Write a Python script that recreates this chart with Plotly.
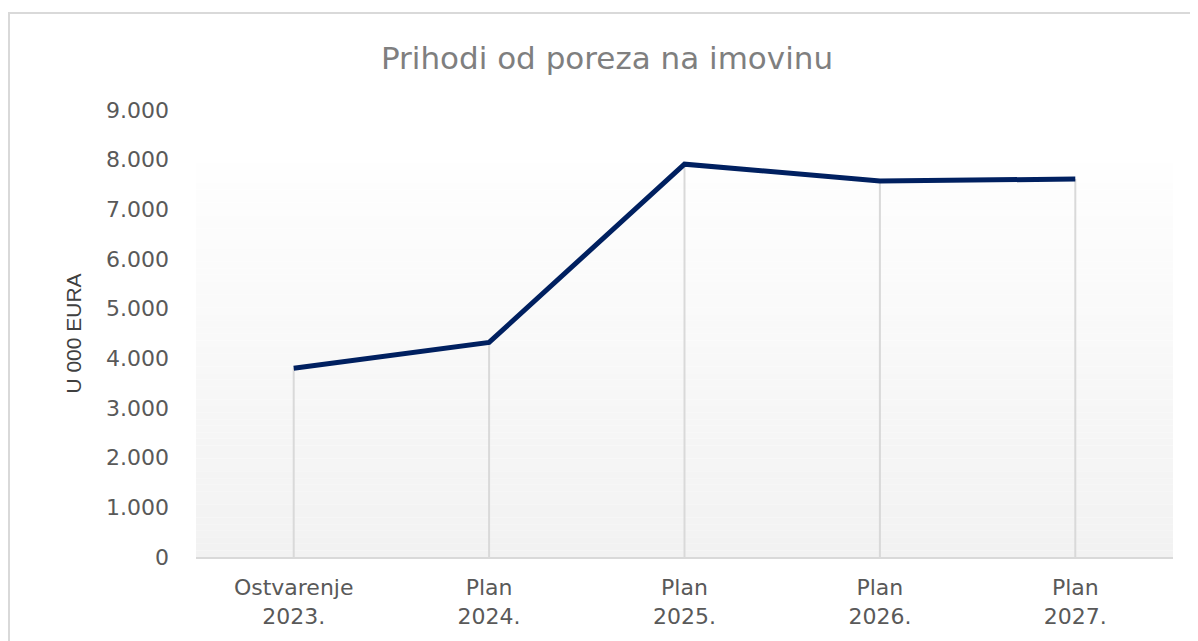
import plotly.graph_objects as go

# ---- data ----
categories = ["Ostvarenje<br>2023.", "Plan<br>2024.", "Plan<br>2025.", "Plan<br>2026.", "Plan<br>2027."]
values = [3800, 4320, 7910, 7570, 7610]
y_tickvals = [0, 1000, 2000, 3000, 4000, 5000, 6000, 7000, 8000, 9000]
y_ticktext = ["0", "1.000", "2.000", "3.000", "4.000", "5.000", "6.000", "7.000", "8.000", "9.000"]
title_text = "Prihodi od poreza na imovinu"
y_title = "U 000 EURA"

# page has an 8px body margin, so the figure is sized to fill the rest of the window
W, H = 1190, 633
ML, MR, MT, MB = 188, 25, 102, 84
plot_w = W - ML - MR
plot_h = H - MT - MB

fig = go.Figure()

# drop lines (from each point down to the axis)
fig.add_trace(go.Scatter(
    x=categories, y=values, mode="markers",
    marker=dict(size=1, color="rgba(0,0,0,0)"),
    error_y=dict(type="data", symmetric=False, array=[0] * len(values),
                 arrayminus=values, color="#d9d9d9", thickness=2, width=0),
    hoverinfo="skip", showlegend=False,
))

# main line
fig.add_trace(go.Scatter(
    x=categories, y=values, mode="lines",
    line=dict(color="#002060", width=5),
    showlegend=False,
))

# gradient plot-area background (bands)
shapes = []
N = 60
top_dom = 0.881
c_bot = (242, 242, 242)
c_top = (254, 254, 254)
for i in range(N):
    t = i / (N - 1)
    c = tuple(int(round(c_bot[k] + (c_top[k] - c_bot[k]) * t)) for k in range(3))
    shapes.append(dict(
        type="rect", xref="x domain", yref="y domain",
        x0=0, x1=1, y0=top_dom * i / N, y1=top_dom * (i + 1) / N,
        fillcolor="rgb(%d,%d,%d)" % c, line=dict(width=0), layer="below",
    ))

# chart border
shapes.append(dict(
    type="rect", xref="paper", yref="paper",
    x0=(1 - ML) / plot_w, x1=(W + 10 - ML) / plot_w,
    y0=(H - MB - (H + 10)) / plot_h, y1=(H - MB - 5) / plot_h,
    line=dict(color="#d9d9d9", width=2), fillcolor="rgba(0,0,0,0)", layer="above",
))

fig.update_layout(
    width=W, height=H,
    margin=dict(l=ML, r=MR, t=MT, b=MB),
    paper_bgcolor="white", plot_bgcolor="white",
    shapes=shapes,
    title=dict(text=title_text, x=599 / W, xanchor="center", y=1 - 50 / H, yanchor="middle",
               font=dict(family="DejaVu Sans", size=31, color="#7f7f7f")),
    font=dict(family="DejaVu Sans", color="#595959"),
    hovermode=False,
)

fig.update_xaxes(
    type="category", range=[-0.5, len(categories) - 0.5],
    showgrid=False, zeroline=False,
    showline=True, linecolor="#d9d9d9", linewidth=2,
    ticks="", ticklabelstandoff=10,
    tickfont=dict(family="DejaVu Sans", size=22, color="#595959"),
)
fig.update_yaxes(
    range=[0, 9000], tickvals=y_tickvals, ticktext=y_ticktext,
    showgrid=False, zeroline=False, showline=False,
    ticks="", ticklabelstandoff=26,
    tickfont=dict(family="DejaVu Sans", size=22, color="#595959"),
    title=dict(text=y_title, standoff=18,
               font=dict(family="Liberation Sans Narrow, Liberation Sans, sans-serif", size=21, color="#404040")),
)

fig.write_html("out.html")
